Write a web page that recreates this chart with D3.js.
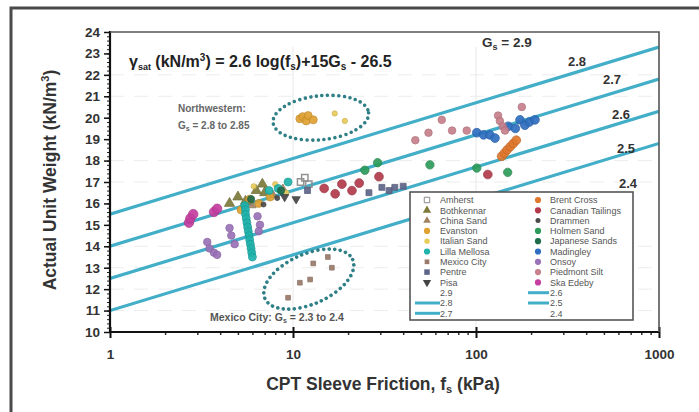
<!DOCTYPE html>
<html>
<head>
<meta charset="utf-8">
<script src="https://cdn.jsdelivr.net/npm/d3@7"></script>
<style>
  body { margin: 0; background: #fff; }
  svg { display: block; font-family: "Liberation Sans", Arial, sans-serif; }
</style>
</head>
<body>
<svg id="app" width="699" height="412"></svg>
<script>
// ---- data ----
const X_TICKS = [1, 10, 100, 1000];
const Y_TICKS = d3.range(10, 25);
const GS_LINES = [2.8, 2.7, 2.6, 2.5];
const GS_LABELS = [2.8, 2.7, 2.6, 2.5, 2.4];
const LEGEND_LEFT = ["Amherst", "Bothkennar", "China Sand", "Evanston", "Italian Sand", "Lilla Mellosa", "Mexico City", "Pentre", "Pisa", "2.9", "2.8", "2.7"];
const LEGEND_RIGHT = ["Brent Cross", "Canadian Tailings", "Drammen", "Holmen Sand", "Japanese Sands", "Madingley", "Onsoy", "Piedmont Silt", "Ska Edeby", "2.6", "2.5", "2.4"];

const amherst = [[11, 17.0], [11.6, 17.2], [12.2, 16.9]];
const bothkennar = [[4.5, 16.0], [5.0, 16.3], [5.5, 16.1], [6.3, 16.6], [7.0, 16.5], [6.8, 16.9]];
const chinaSand = [[6.0, 15.9], [7.8, 16.4], [8.8, 16.7]];
const evanston = [[10.9, 19.95], [11.3, 20.05], [11.8, 19.85], [12.1, 20.1], [12.9, 19.9], [5.2, 15.7], [5.8, 16.2], [6.5, 16.0], [7.5, 16.3]];
const italianSand = [[16.9, 20.2], [19.2, 19.85], [8.0, 16.9], [9.2, 16.5], [6.1, 16.8]];
const lillaMellosa = [[5.45, 15.9], [5.5, 15.7], [5.5, 15.5], [5.55, 15.3], [5.6, 15.1], [5.65, 14.9], [5.7, 14.7], [5.75, 14.5], [5.8, 14.3], [5.85, 14.1], [5.9, 13.9], [5.95, 13.7], [6.0, 13.5], [8.3, 16.7], [9.4, 17.0], [7.4, 16.6]];
const mexicoCity = [[9.4, 11.6], [10.9, 12.3], [12.4, 12.45], [12.9, 13.2], [15.5, 13.5], [16.3, 13.0]];
const pentre = [[30.6, 16.75], [33.5, 16.6], [36, 16.75], [40, 16.8], [26, 16.5], [12.0, 16.6]];
const pisa = [[10.4, 16.2], [9.0, 16.3]];
const brentCross = [[138, 18.2], [143, 18.35], [148, 18.5], [154, 18.65], [160, 18.8], [166, 18.95]];
const canadianTailings = [[14.8, 16.7], [17.0, 16.45], [18.5, 16.9], [21.0, 16.6], [23.0, 16.95], [29.5, 17.25], [116, 17.35]];
const drammen = [[8.2, 16.25], [6.9, 15.95]];
const holmenSand = [[24.7, 17.55], [29, 17.9], [56, 17.8], [101, 17.65], [149, 17.45]];
const japaneseSands = [[5.9, 16.2], [8.6, 16.6]];
const madingley = [[101, 19.3], [110, 19.2], [119, 19.2], [127, 19.05], [150, 19.6], [164, 19.5], [174, 19.9], [185, 19.65], [196, 19.8], [210, 19.9]];
const onsoy = [[3.4, 14.2], [3.5, 13.9], [3.7, 13.7], [3.85, 13.6], [4.5, 14.85], [4.6, 14.5], [4.8, 14.1], [6.4, 15.4], [6.6, 15.0], [6.5, 14.7]];
const piedmontSilt = [[46.6, 18.95], [55, 19.3], [65, 19.9], [74, 19.4], [89, 19.4], [132, 20.1], [135, 19.85], [140, 19.6], [144, 19.4], [178, 20.5]];
const skaEdeby = [[2.7, 15.1], [2.75, 15.3], [2.85, 15.5], [3.7, 15.6], [3.85, 15.75]];

// ---- styles ----
const STYLE = {
  "Amherst": { pts: amherst, shape: d3.symbolSquare, color: "#8a8a8a", open: true, size: 40 },
  "Bothkennar": { pts: bothkennar, shape: d3.symbolTriangle, color: "#7d7a3a", size: 45 },
  "China Sand": { pts: chinaSand, shape: d3.symbolTriangle, color: "#a08262", size: 25 },
  "Evanston": { pts: evanston, shape: d3.symbolCircle, color: "#e0a232", size: 50 },
  "Italian Sand": { pts: italianSand, shape: d3.symbolCircle, color: "#e8cc5a", size: 22 },
  "Lilla Mellosa": { pts: lillaMellosa, shape: d3.symbolCircle, color: "#1fb3ac", size: 50 },
  "Mexico City": { pts: mexicoCity, shape: d3.symbolSquare, color: "#9a7a6a", size: 22 },
  "Pentre": { pts: pentre, shape: d3.symbolSquare, color: "#5e6488", size: 35 },
  "Pisa": { pts: pisa, shape: d3.symbolTriangle, color: "#444", size: 30, rot: 180 },
  "Brent Cross": { pts: brentCross, shape: d3.symbolCircle, color: "#e0782e", size: 60 },
  "Canadian Tailings": { pts: canadianTailings, shape: d3.symbolCircle, color: "#b23a4c", size: 60 },
  "Drammen": { pts: drammen, shape: d3.symbolCircle, color: "#4a4a4a", size: 20 },
  "Holmen Sand": { pts: holmenSand, shape: d3.symbolCircle, color: "#2d9c5a", size: 55 },
  "Japanese Sands": { pts: japaneseSands, shape: d3.symbolCircle, color: "#1f6b4a", size: 40 },
  "Madingley": { pts: madingley, shape: d3.symbolCircle, color: "#2f6ec0", size: 60 },
  "Onsoy": { pts: onsoy, shape: d3.symbolCircle, color: "#9a72b8", size: 45 },
  "Piedmont Silt": { pts: piedmontSilt, shape: d3.symbolCircle, color: "#c7808c", size: 45 },
  "Ska Edeby": { pts: skaEdeby, shape: d3.symbolCircle, color: "#c53ea0", size: 70 }
};
const LINE_COLOR = "#42aec8";

const svg = d3.select("#app");
const x = d3.scaleLog().domain([1, 1000]).range([110, 659]);
const y = d3.scaleLinear().domain([10, 24]).range([332, 32]);
const gsLine = function (gs, fs) { return 2.6 * Math.log10(fs) + 15 * gs - 26.5; };

// outer frame (left + top)
svg.append("path")
  .attr("d", "M11,412 L11,8 L699,8")
  .attr("fill", "none").attr("stroke", "#4a4a4a").attr("stroke-width", 3);

svg.append("clipPath").attr("id", "plotClip")
  .append("rect").attr("x", 110).attr("y", 32).attr("width", 549).attr("height", 300);

const plot = svg.append("g").attr("clip-path", "url(#plotClip)");

// faint gridlines
plot.selectAll("line.hgrid")
  .data([11, 12, 13, 14, 17, 18, 21, 22])
  .enter().append("line")
  .attr("x1", 110).attr("x2", 659)
  .attr("y1", function (d) { return y(d); }).attr("y2", function (d) { return y(d); })
  .attr("stroke", "#ececec").attr("stroke-dasharray", "14 10");
plot.selectAll("line.vgrid")
  .data([10, 100])
  .enter().append("line")
  .attr("x1", function (d) { return x(d); }).attr("x2", function (d) { return x(d); })
  .attr("y1", y(23.3)).attr("y2", 332)
  .attr("stroke", "#e8e8e8");

// Gs lines
plot.selectAll("line.gs")
  .data(GS_LINES)
  .enter().append("line")
  .attr("x1", x(1)).attr("y1", function (d) { return y(gsLine(d, 1)); })
  .attr("x2", x(1000)).attr("y2", function (d) { return y(gsLine(d, 1000)); })
  .attr("stroke", LINE_COLOR).attr("stroke-width", 3.2);

// annotation ellipses (dotted)
const ellipses = [
  { fs: 14.2, g: 20.0, rx: 48, ry: 22, rot: -6 },
  { fs: 12.2, g: 12.47, rx: 48, ry: 25, rot: -24 }
];
plot.selectAll("ellipse.note")
  .data(ellipses)
  .enter().append("ellipse")
  .attr("cx", 0).attr("cy", 0)
  .attr("rx", function (d) { return d.rx; }).attr("ry", function (d) { return d.ry; })
  .attr("transform", function (d) { return `translate(${x(d.fs)},${y(d.g)}) rotate(${d.rot})`; })
  .attr("fill", "none").attr("stroke", "#2e7f86").attr("stroke-width", 3.6)
  .attr("stroke-linecap", "round").attr("stroke-dasharray", "0 5.6");

// data points
Object.keys(STYLE).forEach(function (name) {
  const s = STYLE[name];
  plot.append("g").selectAll("path")
    .data(s.pts)
    .enter().append("path")
    .attr("d", d3.symbol().type(s.shape).size(s.size))
    .attr("transform", function (d) { return `translate(${x(d[0])},${y(d[1])}) rotate(${s.rot || 0})`; })
    .attr("fill", s.open ? "none" : s.color)
    .attr("stroke", s.open ? s.color : d3.color(s.color).darker(0.4))
    .attr("stroke-width", s.open ? 1.5 : 0.8)
    .attr("opacity", 0.92);
});

// axes
const axisText = function (g) {
  g.selectAll("text").attr("font-size", 13.5).attr("font-weight", "bold").attr("fill", "#333")
    .attr("font-family", "'Liberation Sans', Arial, sans-serif");
  g.select(".domain").remove();
};
svg.append("g").attr("transform", "translate(110,0)")
  .call(d3.axisLeft(y).tickValues(d3.range(10, 24.01, 0.2)).tickSize(3).tickFormat(""))
  .call(function (g) { g.select(".domain").remove(); g.selectAll("line").attr("stroke", "#222"); });
svg.append("g").attr("transform", "translate(110,0)")
  .call(d3.axisLeft(y).tickValues(Y_TICKS).tickSize(6).tickPadding(4).tickFormat(d3.format("d")))
  .call(axisText)
  .call(function (g) { g.selectAll("line").attr("stroke", "#111").attr("stroke-width", 1.5); });

const minorX = [];
[1, 10, 100].forEach(function (dec) { d3.range(2, 10).forEach(function (k) { minorX.push(dec * k); }); });
svg.append("g").attr("transform", "translate(0,332)")
  .call(d3.axisBottom(x).tickValues(minorX).tickSize(3).tickFormat(""))
  .call(function (g) { g.select(".domain").remove(); g.selectAll("line").attr("stroke", "#333").attr("stroke-width", 1.5); });
svg.append("g").attr("transform", "translate(0,332)")
  .call(d3.axisBottom(x).tickValues(X_TICKS).tickSize(6).tickPadding(11).tickFormat(d3.format("d")))
  .call(axisText)
  .call(function (g) { g.selectAll("line").attr("stroke", "#111").attr("stroke-width", 2).attr("y1", -5); });

// plot frame
svg.append("line").attr("x1", 110).attr("x2", 110).attr("y1", 31).attr("y2", 333).attr("stroke", "#111").attr("stroke-width", 2.2);
svg.append("line").attr("x1", 109).attr("x2", 660).attr("y1", 332).attr("y2", 332).attr("stroke", "#111").attr("stroke-width", 2);
svg.append("path").attr("d", "M110,32 L659,32 L659,332").attr("fill", "none").attr("stroke", "#555").attr("stroke-width", 1.6);

// axis titles
svg.append("text")
  .attr("transform", "translate(56,180) rotate(-90)")
  .attr("text-anchor", "middle").attr("font-size", 17.5).attr("font-weight", "bold").attr("fill", "#333")
  .html("Actual Unit Weight (kN/m<tspan dy='-7' font-size='11'>3</tspan><tspan dy='7'>)</tspan>");
svg.append("text")
  .attr("x", 383).attr("y", 390)
  .attr("text-anchor", "middle").attr("font-size", 17.5).attr("font-weight", "bold").attr("fill", "#333")
  .html("CPT Sleeve Friction, f<tspan dy='3' font-size='11'>s</tspan><tspan dy='-3'> (kPa)</tspan>");

// equation and labels
svg.append("text")
  .attr("x", 129).attr("y", 67).attr("font-size", 16).attr("font-weight", "bold").attr("fill", "#222")
  .html("γ<tspan dy='3' font-size='9'>sat</tspan><tspan dy='-3'> (kN/m</tspan><tspan dy='-6' font-size='10'>3</tspan><tspan dy='6'>) = 2.6 log(f</tspan><tspan dy='3' font-size='10'>s</tspan><tspan dy='-3'>)+15G</tspan><tspan dy='3' font-size='10'>s</tspan><tspan dy='-3'> - 26.5</tspan>");
svg.append("text")
  .attr("x", 482).attr("y", 47).attr("font-size", 13.5).attr("font-weight", "bold").attr("fill", "#333")
  .html("G<tspan dy='3' font-size='9'>s</tspan><tspan dy='-3'> = 2.9</tspan>");
const labelPos = { 2.8: [568, 66], 2.7: [603, 84], 2.6: [612, 119], 2.5: [617, 153], 2.4: [619, 188] };
svg.selectAll("text.gsl")
  .data(GS_LABELS)
  .enter().append("text")
  .attr("x", function (d) { return labelPos[d][0]; }).attr("y", function (d) { return labelPos[d][1]; })
  .attr("font-size", 13).attr("font-weight", "bold").attr("fill", "#333")
  .text(function (d) { return d.toFixed(1); });

svg.append("text").attr("x", 178).attr("y", 112).attr("font-size", 10).attr("fill", "#666").attr("font-weight", "bold")
  .text("Northwestern:");
svg.append("text").attr("x", 178).attr("y", 129).attr("font-size", 10).attr("fill", "#666").attr("font-weight", "bold")
  .html("G<tspan dy='2' font-size='7'>s</tspan><tspan dy='-2'> = 2.8 to 2.85</tspan>");
svg.append("text").attr("x", 210).attr("y", 321).attr("font-size", 10.5).attr("fill", "#555").attr("font-weight", "bold")
  .html("Mexico City:  G<tspan dy='2' font-size='7'>s</tspan><tspan dy='-2'> = 2.3 to 2.4</tspan>");

// legend
const legend = svg.append("g");
legend.append("rect").attr("x", 410).attr("y", 192).attr("width", 223).attr("height", 128)
  .attr("fill", "#fff").attr("stroke", "#555").attr("stroke-width", 1.6);
const drawCol = function (names, mx, tx, lx0, lx1) {
  names.forEach(function (name, i) {
    const cy = 200 + i * 10.3;
    if (STYLE[name]) {
      const s = STYLE[name];
      legend.append("path")
        .attr("d", d3.symbol().type(s.shape).size(Math.min(s.size, 30)))
        .attr("transform", `translate(${mx},${cy}) rotate(${s.rot || 0})`)
        .attr("fill", s.open ? "none" : s.color)
        .attr("stroke", s.open ? s.color : "none");
    } else if (GS_LINES.indexOf(+name) >= 0) {
      legend.append("line").attr("x1", lx0).attr("x2", lx1).attr("y1", cy).attr("y2", cy)
        .attr("stroke", LINE_COLOR).attr("stroke-width", 3);
    }
    legend.append("text").attr("x", tx).attr("y", cy + 3.2)
      .attr("font-size", 9).attr("fill", "#555").text(name);
  });
};
drawCol(LEGEND_LEFT, 427, 440, 415, 440);
drawCol(LEGEND_RIGHT, 538, 550, 528, 549);
</script>
</body>
</html>
